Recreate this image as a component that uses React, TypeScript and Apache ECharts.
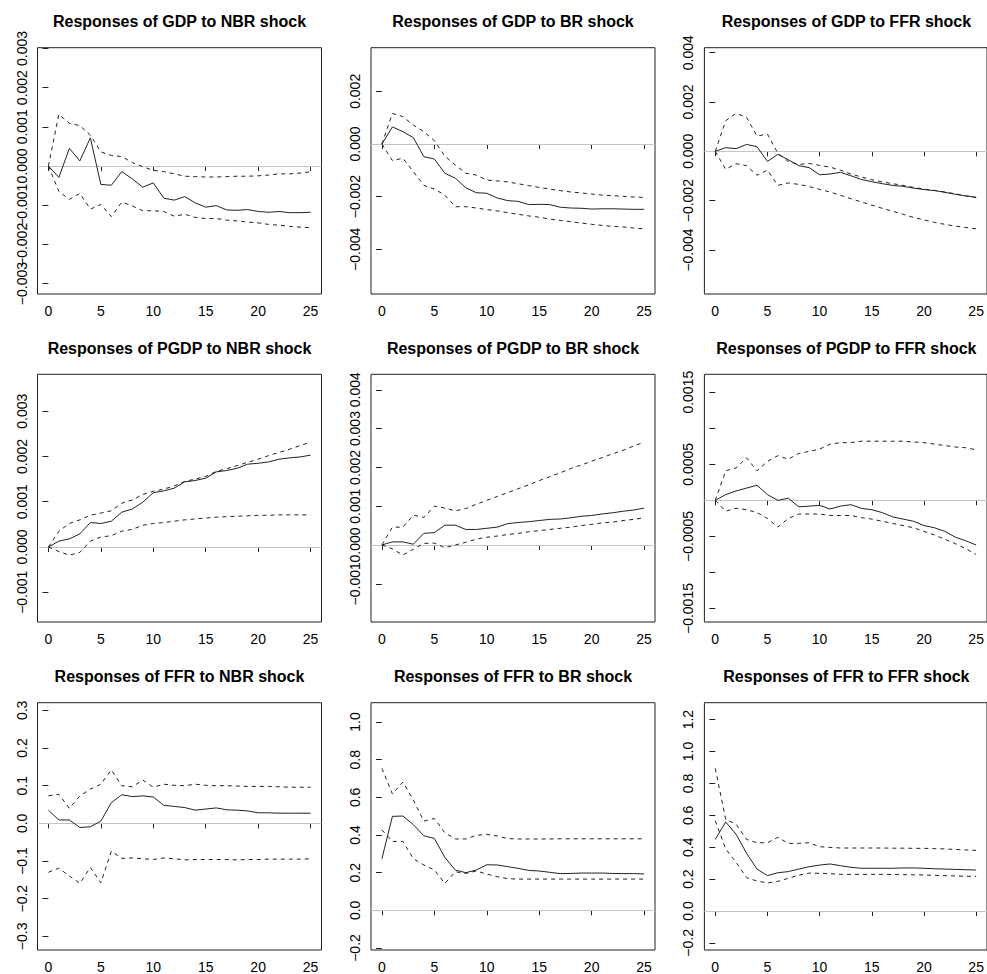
import React, { useEffect, useRef } from "react";
import * as echarts from "echarts";

const horizons = [0, 1, 2, 3, 4, 5, 6, 7, 8, 9, 10, 11, 12, 13, 14, 15, 16, 17, 18, 19, 20, 21, 22, 23, 24, 25];
const xTicks = [0, 5, 10, 15, 20, 25];

const titles = [
  "Responses of GDP to NBR shock",
  "Responses of GDP to BR shock",
  "Responses of GDP to FFR shock",
  "Responses of PGDP to NBR shock",
  "Responses of PGDP to BR shock",
  "Responses of PGDP to FFR shock",
  "Responses of FFR to NBR shock",
  "Responses of FFR to BR shock",
  "Responses of FFR to FFR shock",
];

// GDP to NBR
const gdpNbrIrf = [0, -0.00029, 0.00045, 0.00013, 0.00072, -0.00047, -0.00049, -0.00014, -0.00033, -0.00054, -0.00043, -0.00082, -0.00087, -0.00078, -0.00094, -0.00105, -0.00101, -0.00112, -0.00113, -0.00111, -0.00116, -0.00118, -0.00116, -0.00119, -0.00119, -0.00118];
const gdpNbrUpper = [0, 0.00132, 0.00109, 0.00103, 0.00079, 0.00036, 0.00027, 0.00024, 0.00009, -0.00002, -0.00011, -0.00014, -0.0002, -0.00026, -0.00027, -0.00028, -0.00028, -0.00027, -0.00026, -0.00026, -0.00025, -0.00023, -0.0002, -0.0002, -0.00018, -0.00015];
const gdpNbrLower = [0, -0.00065, -0.00085, -0.0007, -0.0011, -0.00098, -0.00129, -0.00092, -0.00102, -0.00114, -0.00114, -0.00116, -0.00128, -0.00123, -0.00131, -0.00134, -0.00134, -0.00138, -0.0014, -0.00143, -0.00145, -0.00149, -0.00151, -0.00154, -0.00156, -0.00157];
const gdpNbrTicks = [-0.003, -0.002, -0.001, 0, 0.001, 0.002, 0.003];

// GDP to BR
const gdpBrIrf = [0, 0.00065, 0.00047, 0.00024, -0.00048, -0.00057, -0.00111, -0.0013, -0.00166, -0.00185, -0.00187, -0.00205, -0.00215, -0.00218, -0.0023, -0.00229, -0.0023, -0.0024, -0.00243, -0.00244, -0.00247, -0.00246, -0.00246, -0.00247, -0.00248, -0.00248];
const gdpBrUpper = [0, 0.00116, 0.00104, 0.00072, 0.00047, 0.00013, -0.00046, -0.0008, -0.00111, -0.00118, -0.00137, -0.0014, -0.00144, -0.00151, -0.00158, -0.00165, -0.00171, -0.00177, -0.00182, -0.00186, -0.0019, -0.00194, -0.00196, -0.00199, -0.00201, -0.00203];
const gdpBrLower = [0, -0.00063, -0.00054, -0.00105, -0.00157, -0.00171, -0.00194, -0.00238, -0.00238, -0.00243, -0.00249, -0.00254, -0.00261, -0.00267, -0.00273, -0.00278, -0.00285, -0.0029, -0.00295, -0.003, -0.00305, -0.00309, -0.00313, -0.00315, -0.00319, -0.00322];
const gdpBrTicks = [-0.004, -0.002, 0, 0.002];

// GDP to FFR
const gdpFfrIrf = [0, 0.00015, 0.00011, 0.00028, 0.00019, -0.00041, -0.00012, -0.00034, -0.00058, -0.00066, -0.00095, -0.00092, -0.00085, -0.00099, -0.00114, -0.00123, -0.00131, -0.00138, -0.00142, -0.00149, -0.00155, -0.00159, -0.00166, -0.00174, -0.00181, -0.00186];
const gdpFfrUpper = [0, 0.00124, 0.00154, 0.00138, 0.00062, 0.0007, -0.00008, -0.00041, -0.00053, -0.00049, -0.00057, -0.00064, -0.00076, -0.00092, -0.00104, -0.00115, -0.00124, -0.00131, -0.00138, -0.00146, -0.00153, -0.00158, -0.00165, -0.00172, -0.0018, -0.00188];
const gdpFfrLower = [0, -0.00073, -0.0005, -0.00058, -0.00097, -0.00076, -0.00138, -0.00128, -0.00134, -0.00143, -0.00154, -0.00165, -0.00178, -0.00192, -0.00205, -0.00218, -0.00231, -0.00243, -0.00255, -0.00268, -0.00278, -0.00288, -0.00296, -0.00303, -0.00309, -0.00314];
const gdpFfrTicks = [-0.004, -0.002, 0, 0.002, 0.004];

// PGDP to NBR
const pgdpNbrIrf = [0, 0.00013, 0.00018, 0.00029, 0.00054, 0.00052, 0.00057, 0.00077, 0.00084, 0.00099, 0.0012, 0.00124, 0.0013, 0.00144, 0.00147, 0.00152, 0.00166, 0.00169, 0.00174, 0.00183, 0.00185, 0.00188, 0.00194, 0.00197, 0.00199, 0.00203];
const pgdpNbrUpper = [0, 0.00035, 0.00052, 0.0006, 0.0007, 0.00075, 0.0008, 0.00097, 0.00104, 0.00116, 0.00123, 0.00128, 0.00135, 0.00145, 0.0015, 0.00156, 0.00167, 0.00173, 0.0018, 0.00187, 0.00194, 0.00202, 0.00209, 0.00216, 0.00224, 0.00232];
const pgdpNbrLower = [0, -0.0001, -0.00018, -0.00012, 0.00013, 0.00022, 0.00025, 0.00035, 0.00039, 0.00048, 0.00052, 0.00054, 0.00057, 0.0006, 0.00062, 0.00064, 0.00066, 0.00067, 0.00068, 0.00069, 0.0007, 0.0007, 0.00071, 0.00071, 0.00071, 0.00071];
const pgdpNbrTicks = [-0.001, 0, 0.001, 0.002, 0.003];

// PGDP to BR
const pgdpBrIrf = [0, 0.00008, 0.00008, 0.00002, 0.0003, 0.00032, 0.00051, 0.00051, 0.0004, 0.0004, 0.00043, 0.00046, 0.00055, 0.00058, 0.0006, 0.00063, 0.00066, 0.00067, 0.0007, 0.00074, 0.00076, 0.0008, 0.00083, 0.00087, 0.0009, 0.00095];
const pgdpBrUpper = [0, 0.00046, 0.00046, 0.00077, 0.00071, 0.001, 0.00095, 0.00088, 0.00094, 0.00105, 0.00115, 0.00125, 0.00135, 0.00145, 0.00155, 0.00166, 0.00176, 0.00186, 0.00197, 0.00206, 0.00216, 0.00225, 0.00235, 0.00244, 0.00255, 0.00265];
const pgdpBrLower = [0, -0.0001, -0.00026, -0.00011, 0.00004, 0.00005, -0.00007, 0, 0.00007, 0.00015, 0.0002, 0.00023, 0.00027, 0.0003, 0.00034, 0.00037, 0.0004, 0.00043, 0.00046, 0.0005, 0.00053, 0.00057, 0.00059, 0.00063, 0.00066, 0.0007];
const pgdpBrTicks = [-0.001, 0, 0.001, 0.002, 0.003, 0.004];

// PGDP to FFR
const pgdpFfrIrf = [0, 0.00008, 0.00013, 0.00017, 0.00021, 0.00008, 0, 0.00003, -0.00009, -0.00008, -0.00007, -0.00012, -0.00008, -0.00006, -0.00011, -0.00013, -0.00017, -0.00023, -0.00026, -0.00029, -0.00035, -0.00038, -0.00043, -0.00051, -0.00056, -0.00062];
const pgdpFfrUpper = [0, 0.00041, 0.00045, 0.00059, 0.00041, 0.00054, 0.00062, 0.00057, 0.00065, 0.00068, 0.00071, 0.00078, 0.0008, 0.0008, 0.00082, 0.00082, 0.00082, 0.00082, 0.00082, 0.00081, 0.0008, 0.00078, 0.00076, 0.00074, 0.00073, 0.0007];
const pgdpFfrLower = [0, -0.00015, -0.00011, -0.00013, -0.00017, -0.00025, -0.00037, -0.00025, -0.00019, -0.00019, -0.00019, -0.00021, -0.00021, -0.00021, -0.00024, -0.00026, -0.00029, -0.00032, -0.00035, -0.00038, -0.00043, -0.00048, -0.00054, -0.0006, -0.00067, -0.00075];
const pgdpFfrTicks = [-0.0015, -0.001, -0.0005, 0, 0.0005, 0.001, 0.0015];
const pgdpFfrLabels = [-0.0015, -0.0005, 0.0005, 0.0015];

// FFR to NBR
const ffrNbrIrf = [0.035, 0.009, 0.009, -0.011, -0.009, 0.006, 0.055, 0.076, 0.071, 0.073, 0.07, 0.048, 0.045, 0.042, 0.035, 0.038, 0.041, 0.036, 0.035, 0.033, 0.028, 0.028, 0.027, 0.027, 0.027, 0.027];
const ffrNbrUpper = [0.073, 0.077, 0.04, 0.073, 0.091, 0.104, 0.142, 0.1, 0.097, 0.115, 0.096, 0.104, 0.101, 0.1, 0.104, 0.101, 0.1, 0.1, 0.099, 0.098, 0.098, 0.098, 0.097, 0.096, 0.096, 0.096];
const ffrNbrLower = [-0.13, -0.119, -0.14, -0.159, -0.117, -0.158, -0.074, -0.093, -0.092, -0.094, -0.096, -0.092, -0.094, -0.097, -0.096, -0.096, -0.096, -0.096, -0.097, -0.096, -0.096, -0.095, -0.095, -0.095, -0.095, -0.094];
const ffrNbrTicks = [-0.3, -0.2, -0.1, 0, 0.1, 0.2, 0.3];

// FFR to BR
const ffrBrIrf = [0.274, 0.499, 0.501, 0.455, 0.396, 0.382, 0.281, 0.214, 0.2, 0.214, 0.242, 0.241, 0.232, 0.223, 0.212, 0.209, 0.202, 0.195, 0.196, 0.198, 0.198, 0.198, 0.196, 0.195, 0.195, 0.193];
const ffrBrUpper = [0.754, 0.618, 0.681, 0.586, 0.474, 0.488, 0.412, 0.379, 0.379, 0.398, 0.404, 0.395, 0.381, 0.379, 0.379, 0.379, 0.379, 0.38, 0.38, 0.38, 0.38, 0.38, 0.38, 0.38, 0.38, 0.38];
const ffrBrLower = [0.427, 0.366, 0.366, 0.274, 0.241, 0.214, 0.143, 0.205, 0.196, 0.209, 0.193, 0.179, 0.168, 0.166, 0.166, 0.166, 0.166, 0.166, 0.166, 0.166, 0.166, 0.166, 0.166, 0.166, 0.166, 0.166];
const ffrBrTicks = [-0.2, 0, 0.2, 0.4, 0.6, 0.8, 1.0];

// FFR to FFR
const ffrFfrIrf = [0.449, 0.558, 0.481, 0.362, 0.263, 0.222, 0.24, 0.247, 0.263, 0.278, 0.288, 0.295, 0.284, 0.274, 0.268, 0.268, 0.268, 0.268, 0.27, 0.27, 0.268, 0.265, 0.263, 0.261, 0.259, 0.257];
const ffrFfrUpper = [0.894, 0.575, 0.545, 0.449, 0.428, 0.428, 0.462, 0.424, 0.424, 0.428, 0.403, 0.399, 0.395, 0.395, 0.395, 0.395, 0.395, 0.394, 0.394, 0.393, 0.393, 0.391, 0.389, 0.386, 0.383, 0.38];
const ffrFfrLower = [0.566, 0.389, 0.305, 0.209, 0.188, 0.176, 0.186, 0.205, 0.224, 0.238, 0.236, 0.234, 0.23, 0.23, 0.23, 0.23, 0.23, 0.229, 0.228, 0.227, 0.226, 0.224, 0.222, 0.22, 0.218, 0.217];
const ffrFfrTicks = [-0.2, 0, 0.2, 0.4, 0.6, 0.8, 1.0, 1.2];

// y-axis extents of each plot box
const yMins = [-0.003265, -0.005696, -0.005784, -0.001657, -0.001985, -0.001687, -0.3363, -0.2106, -0.2445];
const yMaxs = [0.003019, 0.003658, 0.004203, 0.003816, 0.004399, 0.001748, 0.3204, 1.1027, 1.3062];
const yDecimals = [3, 3, 3, 3, 3, 4, 1, 1, 1];

const irfs = [gdpNbrIrf, gdpBrIrf, gdpFfrIrf, pgdpNbrIrf, pgdpBrIrf, pgdpFfrIrf, ffrNbrIrf, ffrBrIrf, ffrFfrIrf];
const uppers = [gdpNbrUpper, gdpBrUpper, gdpFfrUpper, pgdpNbrUpper, pgdpBrUpper, pgdpFfrUpper, ffrNbrUpper, ffrBrUpper, ffrFfrUpper];
const lowers = [gdpNbrLower, gdpBrLower, gdpFfrLower, pgdpNbrLower, pgdpBrLower, pgdpFfrLower, ffrNbrLower, ffrBrLower, ffrFfrLower];
const tickSets = [gdpNbrTicks, gdpBrTicks, gdpFfrTicks, pgdpNbrTicks, pgdpBrTicks, pgdpFfrTicks, ffrNbrTicks, ffrBrTicks, ffrFfrTicks];
const labelSets = [gdpNbrTicks, gdpBrTicks, gdpFfrTicks, pgdpNbrTicks, pgdpBrTicks, pgdpFfrLabels, ffrNbrTicks, ffrBrTicks, ffrFfrTicks];

const colLefts = [37.5, 371, 704.4];
const rowTops = [47.7, 374.3, 702.7];
const rowHeights = [246.3, 247.7, 247.3];
const boxWidth = 284;

const FONT = '"Liberation Sans", Arial, Helvetica, sans-serif';
const INK = "#222";
const LABEL_SIZE = 14;

function fmt(v: number, d: number) {
  const s = (Math.abs(v) < 1e-12 ? 0 : v).toFixed(d);
  return s.replace("-", "\u2212");
}

function buildOption() {
  const grids: any[] = [];
  const xAxes: any[] = [];
  const yAxes: any[] = [];
  const series: any[] = [];
  const graphics: any[] = [];

  for (let i = 0; i < 9; i++) {
    const c = i % 3;
    const r = Math.floor(i / 3);
    const left = colLefts[c];
    const top = rowTops[r];
    const h = rowHeights[r];
    grids.push({
      left,
      top,
      width: boxWidth,
      height: h,
      show: true,
      borderColor: INK,
      borderWidth: 1,
      backgroundColor: "transparent",
    });
    xAxes.push({
      type: "value",
      gridIndex: i,
      min: -1.04,
      max: 26.04,
      axisLine: { show: false },
      splitLine: { show: false },
      axisTick: { show: true, length: 5, lineStyle: { color: INK, width: 1 }, customValues: xTicks },
      axisLabel: {
        customValues: xTicks,
        margin: 10,
        fontSize: LABEL_SIZE,
        fontFamily: FONT,
        color: "#000",
        showMinLabel: true,
        showMaxLabel: true,
        formatter: (v: number) => String(Math.round(v)),
      },
    });
    const d = yDecimals[i];
    const labels = labelSets[i];
    // alternate labels between two coincident axes so neighbouring labels never get culled
    const evenLabels = labels.filter((_, k) => k % 2 === 0);
    const oddLabels = labels.filter((_, k) => k % 2 === 1);
    const yBase = {
      type: "value",
      gridIndex: i,
      position: "left",
      offset: 0,
      min: yMins[i],
      max: yMaxs[i],
      axisLine: { show: false },
      splitLine: { show: false },
    };
    const labelStyle = {
      rotate: 90,
      margin: 9,
      fontSize: LABEL_SIZE,
      fontFamily: FONT,
      color: "#000",
      showMinLabel: true,
      showMaxLabel: true,
      formatter: (v: number) => fmt(v, d),
    };
    yAxes.push({
      ...yBase,
      axisTick: { show: true, length: 6, lineStyle: { color: INK, width: 1 }, customValues: tickSets[i] },
      axisLabel: { ...labelStyle, customValues: evenLabels },
    });
    yAxes.push({
      ...yBase,
      axisTick: { show: false },
      axisLabel: { ...labelStyle, show: oddLabels.length > 0, customValues: oddLabels.length ? oddLabels : [0] },
    });
    const yIdx = 2 * i;
    const mk = (arr: number[]) => horizons.map((hz, k) => [hz, arr[k]]);
    series.push({
      type: "line",
      xAxisIndex: i,
      yAxisIndex: yIdx,
      data: mk(lowers[i]),
      showSymbol: false,
      symbol: "none",
      lineStyle: { color: INK, width: 1, type: [4, 4] },
      z: 3,
      markLine: {
        silent: true,
        symbol: "none",
        label: { show: false },
        lineStyle: { color: "#c4c4c4", type: "solid", width: 1 },
        data: [{ yAxis: 0 }],
        z: 1,
      },
    });
    series.push({
      type: "line",
      xAxisIndex: i,
      yAxisIndex: yIdx,
      data: mk(uppers[i]),
      showSymbol: false,
      symbol: "none",
      lineStyle: { color: INK, width: 1, type: [4, 4] },
      z: 3,
    });
    series.push({
      type: "line",
      xAxisIndex: i,
      yAxisIndex: yIdx,
      data: mk(irfs[i]),
      showSymbol: false,
      symbol: "none",
      lineStyle: { color: INK, width: 1, type: "solid" },
      z: 4,
    });
    graphics.push({
      type: "text",
      x: left + boxWidth / 2,
      y: top - 26,
      style: {
        text: titles[i],
        fill: "#000",
        font: `bold 16px ${FONT}`,
        align: "center",
        verticalAlign: "middle",
      },
    });
  }

  return {
    animation: false,
    backgroundColor: "#fff",
    grid: grids,
    xAxis: xAxes,
    yAxis: yAxes,
    series,
    graphic: graphics,
  };
}

export default function App() {
  const ref = useRef<HTMLDivElement>(null);
  useEffect(() => {
    if (!ref.current) return;
    const chart = echarts.init(ref.current, null, { renderer: "svg" });
    chart.setOption(buildOption() as any);
    return () => chart.dispose();
  }, []);
  return (
    <div
      ref={ref}
      style={{ position: "absolute", left: 0, top: 0, width: 987, height: 974, background: "#fff" }}
    />
  );
}
